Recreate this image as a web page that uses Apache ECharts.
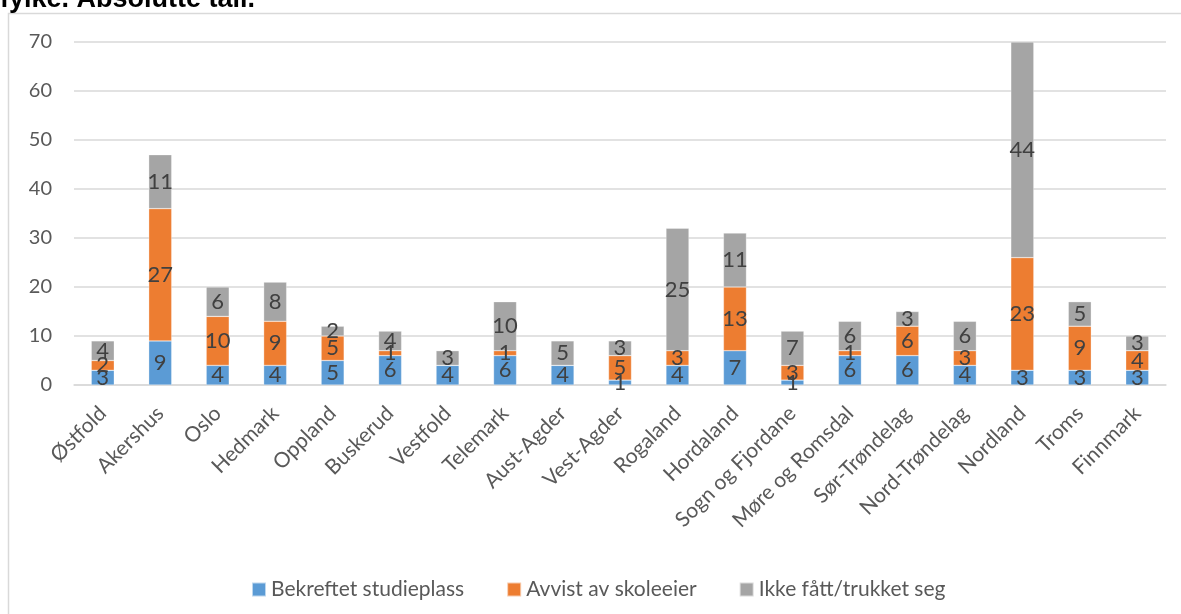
<!DOCTYPE html>
<html>
<head>
<meta charset="utf-8">
<script src="https://cdn.jsdelivr.net/npm/echarts@6/dist/echarts.min.js"></script>
<style>
  html, body { margin: 0; padding: 0; background: #fff; }
  #chart { width: 1181px; height: 614px; }
</style>
</head>
<body>
<div id="chart"></div>
<script>
var fylker = ['Østfold', 'Akershus', 'Oslo', 'Hedmark', 'Oppland', 'Buskerud', 'Vestfold', 'Telemark', 'Aust-Agder', 'Vest-Agder', 'Rogaland', 'Hordaland', 'Sogn og Fjordane', 'Møre og Romsdal', 'Sør-Trøndelag', 'Nord-Trøndelag', 'Nordland', 'Troms', 'Finnmark']
var bekreftet = [3, 9, 4, 4, 5, 6, 4, 6, 4, 1, 4, 7, 1, 6, 6, 4, 3, 3, 3]
var avvist = [2, 27, 10, 9, 5, 1, 0, 1, 0, 5, 3, 13, 3, 1, 6, 3, 23, 9, 4]
var ikkeFatt = [4, 11, 6, 8, 2, 4, 3, 10, 5, 3, 25, 11, 7, 6, 3, 6, 44, 5, 3]
var yTicks = [0, 10, 20, 30, 40, 50, 60, 70]

var font = 'Lato, "Open Sans", sans-serif'

function lagSerie(navn, data, farge) {
  return {
    name: navn,
    type: 'bar',
    stack: 'tot',
    data: data,
    barWidth: 23,
    itemStyle: { color: farge, borderColor: 'rgba(255,255,255,0.6)', borderWidth: 0.5 },
    label: {
      show: true,
      position: 'inside',
      fontFamily: font,
      fontSize: 22,
      color: '#404040',
      formatter: function (p) { return p.value === 0 ? '' : p.value }
    }
  }
}

var chart = echarts.init(document.getElementById('chart'))
chart.setOption({
  animation: false,
  textStyle: { fontFamily: font },
  graphic: [
    {
      type: 'rect',
      shape: { x: 8.5, y: 13.5, width: 1200, height: 700 },
      style: { fill: 'none', stroke: '#d9d9d9', lineWidth: 1.5 },
      silent: true
    },
    {
      type: 'text',
      x: 0,
      y: 13,
      style: {
        text: 'fylke. Absolutte tall.',
        font: 'bold 27px "Liberation Sans", Arial, sans-serif',
        fill: '#000',
        verticalAlign: 'bottom'
      }
    }
  ],
  grid: { left: 74, right: 15, top: 42, bottom: 229 },
  legend: {
    left: 246,
    top: 574,
    itemWidth: 14,
    itemHeight: 14,
    itemGap: 42,
    icon: 'rect',
    textStyle: { fontFamily: font, fontSize: 21, color: '#595959' },
    data: ['Bekreftet studieplass', 'Avvist av skoleeier', 'Ikke fått/trukket seg']
  },
  xAxis: {
    type: 'category',
    data: fylker,
    axisTick: { show: false },
    axisLine: { lineStyle: { color: '#d9d9d9', width: 1.5 } },
    axisLabel: {
      interval: 0,
      rotate: 45,
      margin: 25,
      fontFamily: font,
      fontSize: 21,
      color: '#595959'
    }
  },
  yAxis: {
    type: 'value',
    min: yTicks[0],
    max: yTicks[yTicks.length - 1],
    interval: 10,
    axisLine: { show: false },
    axisTick: { show: false },
    splitLine: { lineStyle: { color: '#d9d9d9', width: 1.5 } },
    axisLabel: { margin: 22, fontFamily: font, fontSize: 20, color: '#595959' }
  },
  series: [
    lagSerie('Bekreftet studieplass', bekreftet, '#5b9bd5'),
    lagSerie('Avvist av skoleeier', avvist, '#ed7d31'),
    lagSerie('Ikke fått/trukket seg', ikkeFatt, '#a5a5a5')
  ]
})
</script>
</body>
</html>
